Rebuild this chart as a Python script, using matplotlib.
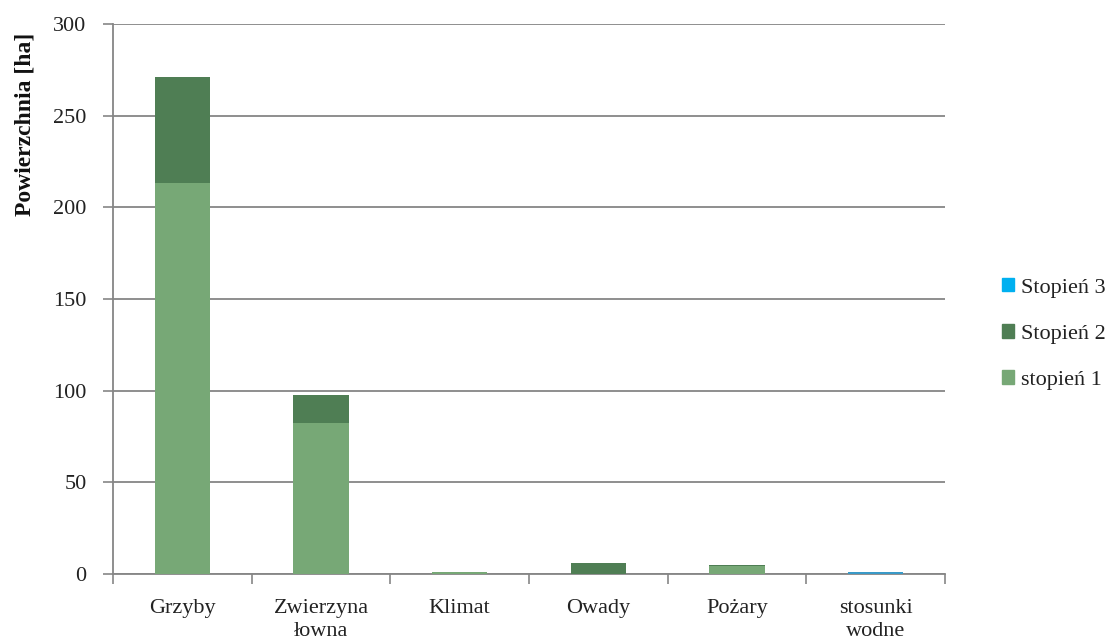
import matplotlib
matplotlib.use("Agg")
import matplotlib.pyplot as plt
import numpy as np

categories = ["Grzyby", "Zwierzyna\nłowna", "Klimat", "Owady", "Pożary", "stosunki\nwodne"]
stopien_1 = [213.0, 82.4, 1.0, 0.0, 4.6, 0.0]
stopien_2 = [58.1, 15.1, 0.0, 6.2, 0.3, 0.0]
stopien_3 = [0.0, 0.0, 0.0, 0.0, 0.0, 1.0]
yticks = [0, 50, 100, 150, 200, 250, 300]

plt.rcParams["font.family"] = ["Liberation Serif", "DejaVu Serif"]
FS = 16

fig = plt.figure(figsize=(11.09, 6.44), dpi=100)
ax = fig.add_axes([113 / 1109, 1 - 574 / 644, (945 - 113) / 1109, (574 - 24) / 644])

x = np.arange(len(categories))
w = 0.4
c1, c2, c3 = "#77A876", "#4F7E54", "#00B0F0"
s1 = np.array(stopien_1)
s2 = np.array(stopien_2)
s3 = np.array(stopien_3)
ax.bar(x, s1, w, color=c1, label="stopień 1", zorder=3)
ax.bar(x, s2, w, bottom=s1, color=c2, label="Stopień 2", zorder=3)
ax.bar(x, s3, w, bottom=s1 + s2, color="#3A9AC8", label="Stopień 3", zorder=3)

ax.set_xlim(-0.5, len(categories) - 0.5)
ax.set_ylim(0, 300)
ax.set_yticks(yticks)
ax.set_yticklabels([str(t) for t in yticks], fontsize=FS, color="#222222")
ax.set_xticks(x)
ax.set_xticklabels(categories, fontsize=FS, color="#222222", linespacing=1.3)
ax.set_xticks(np.arange(len(categories) + 1) - 0.5, minor=True)
ax.tick_params(axis="x", which="major", length=0, pad=18)
ax.tick_params(axis="x", which="minor", length=7, color="#868686", width=1.2)
ax.tick_params(axis="y", length=7, color="#868686", width=1.2, pad=12)

ax.grid(axis="y", color="#868686", linewidth=1.3, zorder=0)
for s in ["top", "right"]:
    ax.spines[s].set_visible(False)
for s in ["left", "bottom"]:
    ax.spines[s].set_color("#868686")
    ax.spines[s].set_linewidth(1.3)
    ax.spines[s].set_zorder(2)

fig.text(25 / 1109, 1 - 124 / 644, "Powierzchnia [ha]", fontsize=17, fontweight="bold",
         rotation=90, ha="center", va="center", color="#111111")

legend_colors = [c3, c2, c1]
legend_labels = ["Stopień 3", "Stopień 2", "stopień 1"]
handles = [plt.Rectangle((0, 0), 1, 1, color=c) for c in legend_colors]
leg = fig.legend(handles, legend_labels, loc="center left",
                 bbox_to_anchor=(982 / 1109, 1 - 334 / 644), frameon=False,
                 fontsize=FS, handlelength=0.55, handleheight=0.55,
                 handletextpad=0.3, labelspacing=1.2)
for t in leg.get_texts():
    t.set_color("#222222")

fig.savefig("out.png", dpi=100)
